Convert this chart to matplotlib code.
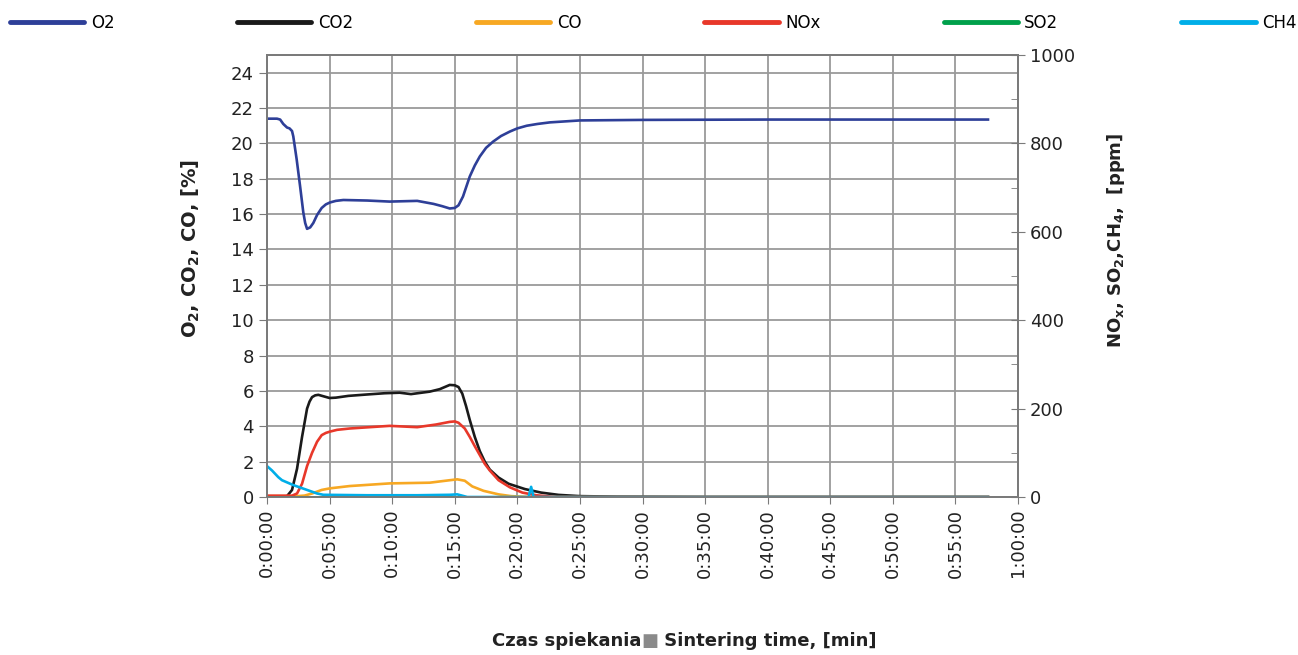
import matplotlib.pyplot as plt
from matplotlib.ticker import MultipleLocator, FuncFormatter

plt.rcParams['font.family'] = ['DejaVu Sans']
plt.rcParams['mathtext.fontset'] = 'dejavusans'

# time in minutes
t_o2 = [0, 0.8, 1.05, 1.3, 1.6, 1.8, 2.0, 2.1, 2.37, 2.64, 2.9, 3.05, 3.2, 3.45, 3.7,
        4.0, 4.37, 4.7, 5.03, 5.5, 6.1, 8.0, 9.8, 12.0, 13.3, 14.0, 14.6, 15.0, 15.3,
        15.66, 16.2, 16.6, 17.0, 17.5, 18.06, 18.7, 19.4, 20.0, 20.75, 21.6, 22.6,
        25.0, 30.0, 40.0, 50.0, 57.6]
o2 = [21.4, 21.4, 21.35, 21.1, 20.9, 20.85, 20.7, 20.4, 19.1, 17.6, 16.1, 15.5, 15.17,
      15.25, 15.5, 15.95, 16.35, 16.55, 16.66, 16.75, 16.8, 16.77, 16.71, 16.75, 16.58,
      16.45, 16.32, 16.35, 16.5, 17.0, 18.13, 18.75, 19.26, 19.75, 20.1, 20.42, 20.67,
      20.85, 21.0, 21.1, 21.19, 21.3, 21.33, 21.35, 21.35, 21.35]

t_co2 = [0, 1.0, 1.6, 2.0, 2.4, 2.8, 3.2, 3.4, 3.6, 3.85, 4.1, 4.5, 5.0, 5.5, 6.5, 8.0,
         9.4, 10.6, 11.5, 13.0, 13.8, 14.3, 14.6, 15.0, 15.3, 15.6, 15.9, 16.2, 16.6,
         17.0, 17.4, 17.8, 18.5, 19.3, 20.6, 21.9, 23.3, 25.0, 28.0, 35.0, 57.6]
co2 = [0.0, 0.0, 0.05, 0.4, 1.6, 3.4, 5.0, 5.4, 5.65, 5.75, 5.78, 5.7, 5.6, 5.62, 5.72,
       5.8, 5.87, 5.9, 5.82, 5.96, 6.1, 6.25, 6.34, 6.32, 6.22, 5.85, 5.15, 4.36, 3.4,
       2.6, 2.0, 1.55, 1.1, 0.75, 0.45, 0.25, 0.12, 0.05, 0.02, 0.0, 0.0]

t_co = [0, 2.4, 3.0, 3.6, 4.37, 5.03, 6.6, 9.8, 13.0, 14.6, 15.2, 15.8, 16.4, 17.3,
        18.5, 19.5, 21.0, 57.6]
co = [0.05, 0.05, 0.08, 0.2, 0.4, 0.49, 0.62, 0.77, 0.81, 0.95, 1.0, 0.92, 0.6, 0.35,
      0.15, 0.05, 0.0, 0.0]

# ppm
t_nox = [0, 2.0, 2.4, 2.8, 3.2, 3.6, 4.0, 4.37, 4.7, 5.03, 5.6, 6.6, 9.8, 12.0, 13.5,
         14.6, 15.0, 15.3, 15.8, 16.2, 16.6, 17.0, 17.4, 17.8, 18.5, 19.4, 20.4, 21.5,
         23.0, 57.6]
nox = [3, 3, 8, 30, 70, 100, 125, 140, 145, 148, 152, 155, 161, 158, 164, 170, 171,
       168, 155, 136, 115, 95, 75, 60, 38, 22, 10, 4, 0, 0]

t_so2 = [0, 57.6]
so2 = [0.5, 0.5]

t_ch4 = [0, 0.4, 0.9, 1.2, 2.1, 3.2, 4.0, 4.5, 8.0, 12.0, 14.6, 15.2, 16.0, 20.9, 21.1,
         21.3, 57.6]
ch4 = [70, 60, 45, 38, 27, 16, 8, 5, 4, 4, 5, 6, 0, 0, 23, 0, 0]

fig = plt.figure(figsize=(12.98, 6.55), dpi=100)
ax = fig.add_axes([0.2057, 0.2412, 0.5786, 0.6748])
ax2 = ax.twinx()

lw = 1.9
l1, = ax.plot(t_o2, o2, color='#2e3f98', lw=lw, label='O2')
l2, = ax.plot(t_co2, co2, color='#1a1a1a', lw=lw, label='CO2')
l3, = ax.plot(t_co, co, color='#f7a823', lw=lw, label='CO')
l4, = ax2.plot(t_nox, nox, color='#e8382a', lw=lw, label='NOx')
l5, = ax2.plot(t_so2, so2, color='#00a04b', lw=lw, label='SO2')
l6, = ax2.plot(t_ch4, ch4, color='#00aee8', lw=lw, label='CH4')

ax.set_xlim(0, 60)
ax.set_ylim(0, 25)
ax2.set_ylim(0, 1000)
ax.set_xticks(range(0, 61, 5))
ax.xaxis.set_major_formatter(FuncFormatter(lambda v, p: '%d:%02d:00' % (int(v) // 60, int(v) % 60)))
ax.set_yticks(range(0, 25, 2))
ax.set_yticks([25], minor=True)
ax2.yaxis.set_major_locator(MultipleLocator(200))
ax2.yaxis.set_minor_locator(MultipleLocator(100))

ax.grid(True, which='both', color='#9a9a9a', lw=1.3)
ax.set_axisbelow(True)
for a in (ax, ax2):
    for s in a.spines.values():
        s.set_color('#7a7a7a')
        s.set_linewidth(1.3)

ax.tick_params(axis='x', labelrotation=90, labelsize=13, color='#7a7a7a', length=5,
               labelcolor='#222222')
ax.tick_params(axis='y', labelsize=13, color='#7a7a7a', length=6, labelcolor='#222222')
ax.tick_params(axis='y', which='minor', length=0)
ax2.tick_params(axis='y', which='major', direction='inout', length=10, labelsize=13,
                color='#7a7a7a', labelcolor='#222222')
ax2.tick_params(axis='y', which='minor', direction='in', length=5, color='#7a7a7a')

fig.text(191 / 1298, 1 - 248 / 655, r'O$_\mathbf{2}$, CO$_\mathbf{2}$, CO, [%]',
         rotation=90, ha='center', va='center', fontsize=14, fontweight='bold',
         color='#222222')
fig.text(1116 / 1298, 1 - 240 / 655, r'NO$_\mathbf{x}$, SO$_\mathbf{2}$,CH$_\mathbf{4}$,  [ppm]',
         rotation=90, ha='center', va='center', fontsize=13, fontweight='bold',
         color='#222222')

# x label in three pieces so the separator square can be grey
parts = [('Czas spiekania', '#222222'), ('\u25a0', '#8a8a8a'),
         (' Sintering time, [min]', '#222222')]
base_y = 1 - 646 / 655
pieces = [fig.text(0, base_y, s, ha='left', va='baseline', fontsize=13,
                   fontweight='bold', color=c) for s, c in parts]
fig.canvas.draw()
r = fig.canvas.get_renderer()
widths = [p.get_window_extent(r).width for p in pieces]
x = 684 - sum(widths) / 2
for p, w in zip(pieces, widths):
    p.set_x(x / 1298)
    x += w

fig.legend(handles=[l1, l2, l3, l4, l5, l6], loc='center left',
           bbox_to_anchor=(-0.004, 1 - 23 / 655, 1.0146, 0), mode='expand', ncol=6,
           frameon=False, fontsize=12, handlelength=4.45, handletextpad=0.4)
for h in fig.legends[0].legend_handles:
    h.set_linewidth(3.5)
    h.set_solid_capstyle('round')

fig.savefig('out.png', dpi=100)
